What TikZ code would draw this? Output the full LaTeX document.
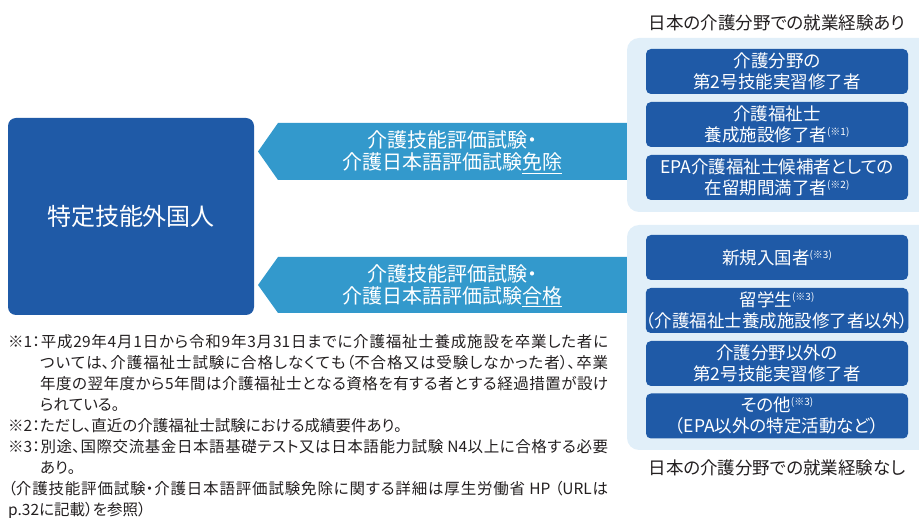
\documentclass[tikz,border=0pt]{standalone}
\usepackage{fontspec}
\setmainfont{Noto Sans CJK JP}[CharacterWidth=AlternateProportional]
\XeTeXlinebreaklocale "ja"
\XeTeXlinebreakskip=0pt plus 2pt
\definecolor{boxblue}{HTML}{1F5AA7}
\definecolor{arrowblue}{HTML}{3399CC}
\definecolor{panelblue}{HTML}{E1EFF9}
\definecolor{labeltext}{HTML}{231F20}
\newcommand\wul[1]{\setbox0\hbox{#1}\rlap{\rule[-4pt]{\wd0}{1pt}}\box0}
\newcommand\noteref[1]{\raisebox{6pt}{\fontsize{10}{10}\selectfont(※#1)}}
\tikzset{
  darkbox/.style={fill=boxblue, rounded corners=5pt, draw=none, inner sep=0pt,
    minimum width=262pt, minimum height=45pt, text=white, align=center,
    font=\fontsize{17.5}{21}\selectfont},
  panel/.style={fill=panelblue, rounded corners=12pt, draw=none},
  arrowshape/.style={fill=arrowblue, draw=none},
  arrowtext/.style={text=white, align=center, inner sep=0pt, font=\fontsize{20}{22}\selectfont},
  grouplabel/.style={text=labeltext, inner sep=0pt, font=\fontsize{17.5}{21}\selectfont}
}
\begin{document}
\begin{tikzpicture}[x=1pt,y=-1pt]
\useasboundingbox (0,0) rectangle (919,518);
\clip (0,0) rectangle (919,518);
% arrows
\fill[arrowshape] (278,123) -- (634,123) -- (634,180) -- (278,180) -- (258,151.5) -- cycle;
\fill[arrowshape] (278,257) -- (634,257) -- (634,313) -- (278,313) -- (258,285) -- cycle;
\node[arrowtext] (a1) at (452,152.5) {介護技能評価試験・\\介護日本語評価試験\wul{免除}};
\node[arrowtext] (a2) at (452,286) {介護技能評価試験・\\介護日本語評価試験\wul{合格}};
% main box
\node[fill=boxblue, rounded corners=8pt, minimum width=246pt, minimum height=197pt,
  inner sep=0pt, text=white, font=\fontsize{24}{28}\selectfont] (main) at (131,216.5) {特定技能外国人};
% panels
\fill[panel] (627,38) rectangle (945,212);
\fill[panel] (627,225) rectangle (945,450);
\node[grouplabel] (l1) at (777,23) {日本の介護分野での就業経験あり};
\node[grouplabel] (l2) at (777,468) {日本の介護分野での就業経験なし};
% top boxes
\node[darkbox] (t1) at (777,71.5) {介護分野の\\第2号技能実習修了者};
\node[darkbox] (t2) at (777,124.5) {介護福祉士\\養成施設修了者\noteref{1}};
\node[darkbox] (t3) at (777,177.5) {EPA介護福祉士候補者としての\\在留期間満了者\noteref{2}};
% bottom boxes
\node[darkbox] (u1) at (777,257.5) {新規入国者\noteref{3}};
\node[darkbox] (u2) at (777,310.5) {留学生\noteref{3}\\（介護福祉士養成施設修了者以外）};
\node[darkbox] (u3) at (777,363.5) {介護分野以外の\\第2号技能実習修了者};
\node[darkbox] (u4) at (777,416) {その他\noteref{3}\\（EPA以外の特定活動など）};
% notes
\node[anchor=base west, inner sep=0pt, text=labeltext] (notes) at (8,347.5) {\parbox[t]{600pt}{\fontsize{15.5}{21}\selectfont\parindent=0pt\tolerance=10000%
\setbox0\hbox{※1：}\hangindent=\wd0 \hangafter=1 ※1：平成29年4月1日から令和9年3月31日までに介護福祉士養成施設を卒業した者に\linebreak ついては、介護福祉士試験に合格しなくても（不合格又は受験しなかった者）、卒業\linebreak 年度の翌年度から5年間は介護福祉士となる資格を有する者とする経過措置が設け\linebreak られている。\par
※2：ただし、直近の介護福祉士試験における成績要件あり。\par
\setbox0\hbox{※3：}\hangindent=\wd0 \hangafter=1 ※3：別途、国際交流基金日本語基礎テスト又は日本語能力試験 N4以上に合格する必要\linebreak あり。\par
（介護技能評価試験・介護日本語評価試験免除に関する詳細は厚生労働省 HP （URLは\linebreak p.32に記載）を参照）\par}};
\end{tikzpicture}
\end{document}
